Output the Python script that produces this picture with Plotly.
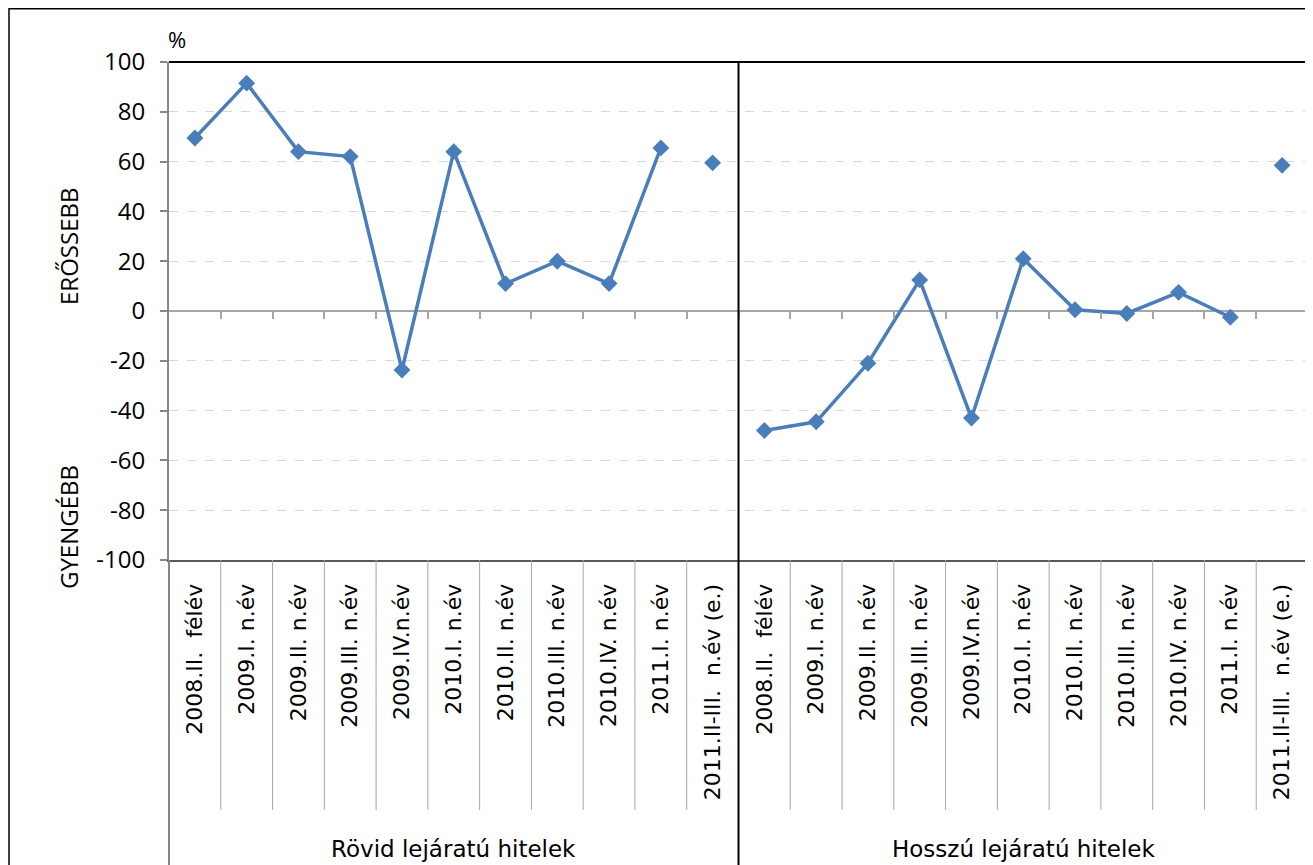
import plotly.graph_objects as go

categories = ["2008.II.  félév", "2009.I. n.év", "2009.II. n.év", "2009.III. n.év",
              "2009.IV.n.év", "2010.I. n.év", "2010.II. n.év", "2010.III. n.év",
              "2010.IV. n.év", "2011.I. n.év", "2011.II-III.  n.év (e.)"]
groups = ["Rövid lejáratú hitelek", "Hosszú lejáratú hitelek"]
short_values = [69.5, 91.5, 64, 62, -23.7, 64, 11, 20, 11, 65.5]
short_forecast = 59.5
long_values = [-48, -44.5, -21, 12.5, -43, 21, 0.5, -1, 7.5, -2.5]
long_forecast = 58.5
y_ticks = [-100, -80, -60, -40, -20, 0, 20, 40, 60, 80, 100]
y_ticktext = ["-100", "-80", "-60", "-40", "-20", "0", "20", "40", "60", "80", "100"]

BLUE = "#4a7ebb"
n = len(categories)
xs_short = list(range(len(short_values)))
xs_long = [n + i for i in range(len(long_values))]
x_fc = [n - 1, 2 * n - 1]

marker = dict(symbol="diamond", size=13, color=BLUE)
fig = go.Figure()
fig.add_trace(go.Scatter(x=xs_short, y=short_values, mode="lines+markers",
                         line=dict(color=BLUE, width=3.5), marker=marker,
                         showlegend=False))
fig.add_trace(go.Scatter(x=xs_long, y=long_values, mode="lines+markers",
                         line=dict(color=BLUE, width=3.5), marker=marker,
                         showlegend=False))
fig.add_trace(go.Scatter(x=x_fc, y=[short_forecast, long_forecast], mode="markers",
                         marker=marker, showlegend=False, xaxis="x2"))

OFF = 8  # page body margin
W, H = 1313 - OFF, 865 - OFF
# reference pixel geometry
PL, PR, PT, PB = 169, 1308, 62, 560
L = PL - OFF
T = PT - OFF
pw = PR - PL
ph = PB - PT
R = W - L - pw
B = H - T - ph

def py(pix):
    return (PB - pix) / ph

def px(pix):
    return (pix - PL) / pw

xr = [-0.5, 2 * n - 0.5]
boundaries = [i + 0.5 for i in range(2 * n - 1)]

fig.update_layout(
    width=W, height=H,
    margin=dict(l=L, r=R, t=T, b=B, autoexpand=False),
    paper_bgcolor="white", plot_bgcolor="white",
    xaxis=dict(range=xr, tickmode="array", tickvals=list(range(2 * n)),
               ticktext=categories * 2, tickangle=-90, ticks="",
               showline=True, linecolor="#595959", linewidth=2,
               showgrid=False, zeroline=False, ticklabelstandoff=13,
               tickfont=dict(family="DejaVu Sans", size=22, color="black")),
    xaxis2=dict(range=xr, overlaying="x", anchor="free", position=0.5,
                tickmode="array", tickvals=boundaries, ticks="outside",
                ticklen=7, tickwidth=2, tickcolor="#a6a6a6",
                showticklabels=False, showline=False, showgrid=False,
                zeroline=False),
    yaxis=dict(range=[-100, 100], tickmode="array", tickvals=y_ticks,
               ticktext=y_ticktext,
               ticks="outside", ticklen=7, tickwidth=2, tickcolor="#868686",
               showline=True, linecolor="#868686", linewidth=2,
               gridcolor="#d9d9d9", griddash="dash", gridwidth=1,
               zeroline=True, zerolinecolor="#a6a6a6", zerolinewidth=2,
               ticklabelstandoff=10,
               tickfont=dict(family="Open Sans", size=24, color="black")),
)

shapes = []
shapes.append(dict(type="rect", xref="paper", yref="paper",
                   x0=px(9), y0=py(8.8), x1=1.2, y1=-1.0,
                   line=dict(color="black", width=1.5)))
shapes.append(dict(type="line", xref="paper", yref="paper", x0=0, x1=1, y0=1, y1=1,
                   line=dict(color="black", width=2)))
shapes.append(dict(type="line", xref="paper", yref="paper", x0=1, x1=1, y0=1, y1=-1.0,
                   line=dict(color="black", width=2)))
shapes.append(dict(type="line", xref="paper", yref="paper", x0=0, x1=0, y0=0, y1=-1.0,
                   line=dict(color="#868686", width=2)))
for b in boundaries:
    if b == n - 0.5:
        continue
    shapes.append(dict(type="line", xref="x", yref="paper", x0=b, x1=b,
                       y0=0, y1=py(810), line=dict(color="#a6a6a6", width=1)))
shapes.append(dict(type="line", xref="x", yref="paper", x0=n - 0.5, x1=n - 0.5,
                   y0=1, y1=-1.0, line=dict(color="black", width=2)))
fig.update_layout(shapes=shapes)

annotations = []
for gi, g in enumerate(groups):
    annotations.append(dict(text=g, xref="x", yref="paper", x=gi * n + (n - 1) / 2,
                            y=py(849), showarrow=False, xanchor="center", yanchor="middle",
                            font=dict(family="DejaVu Sans", size=23, color="black")))
annotations.append(dict(text="%", xref="paper", yref="paper", x=px(177), y=py(39),
                        showarrow=False, xanchor="center", yanchor="middle",
                        font=dict(family="Open Sans", size=22, color="black")))
annotations.append(dict(text="ERŐSSEBB", xref="paper", yref="paper", x=px(69), y=py(247),
                        showarrow=False, textangle=-90, xanchor="center", yanchor="middle",
                        font=dict(family="Open Sans", size=24, color="black")))
annotations.append(dict(text="GYENGÉBB", xref="paper", yref="paper", x=px(68), y=py(527),
                        showarrow=False, textangle=-90, xanchor="center", yanchor="middle",
                        font=dict(family="Open Sans", size=24, color="black")))
fig.update_layout(annotations=annotations)

fig.write_html("out.html")
